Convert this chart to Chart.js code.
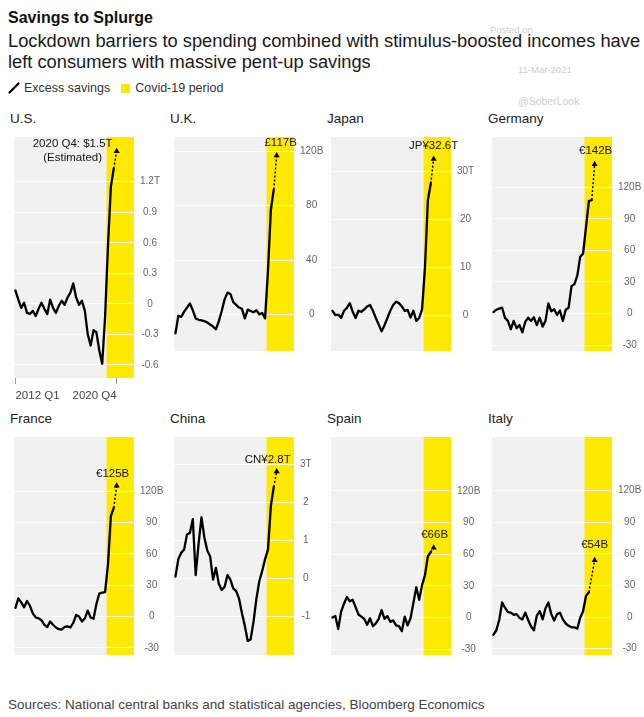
<!DOCTYPE html>
<html>
<head>
<meta charset="utf-8">
<title>Savings to Splurge</title>
<script src="https://cdn.jsdelivr.net/npm/chart.js@4.4.1/dist/chart.umd.min.js"></script>
<style>
  html, body { margin: 0; padding: 0; background: #fff; }
  body { position: relative; width: 644px; height: 717px; overflow: hidden;
         font-family: "Liberation Sans", Arial, Helvetica, sans-serif; color: #111; }
  .txt { position: absolute; white-space: nowrap; }
  .panel-title { position: absolute; font-size: 13.5px; color: #222; line-height: 16px; }
  .legend { position: absolute; left: 8px; top: 80px; display: flex; align-items: center; font-size: 12.5px; color: #333; line-height: 16px; }
  .legend .swatch { width: 9px; height: 9px; background: #ffe900; margin: 0 5px 0 11px; }
  .mark { position: absolute; color: #cfcfcf; white-space: nowrap; }
  canvas { position: absolute; }
</style>
</head>
<body>

<div class="txt" style="left:8px; top:8px; font-size:16px; font-weight:bold; line-height:20px;">Savings to Splurge</div>
<div class="txt" style="left:8px; top:30px; font-size:18.3px; line-height:21px; color:#1a1a1a;">Lockdown barriers to spending combined with stimulus-boosted incomes have</div>
<div class="txt" style="left:8px; top:51px; font-size:18.3px; line-height:21px; color:#1a1a1a;">left consumers with massive pent-up savings</div>

<div class="legend">
  <svg width="12" height="12" viewBox="0 0 12 12" style="margin-right:4px"><line x1="1.5" y1="10.5" x2="10.5" y2="1.5" stroke="#000" stroke-width="2.2" stroke-linecap="round"/></svg>
  <span>Excess savings</span>
  <span class="swatch"></span>
  <span>Covid-19 period</span>
</div>

<div class="mark" style="left:490px; top:24px; font-size:9.5px;">Posted on</div>
<div class="mark" style="left:518px; top:64px; font-size:9.5px;">11-Mar-2021</div>
<div class="mark" style="left:518px; top:95px; font-size:10.5px;">@SoberLook</div>

<div id="titles"></div>

<div class="txt" style="left:8px; top:697px; font-size:13.5px; line-height:16px; color:#444;">Sources: National central banks and statistical agencies, Bloomberg Economics</div>

<script>
// Quarterly periods shared by every panel (x value = position in this list)
const quarters = [
  '2012 Q1','2012 Q2','2012 Q3','2012 Q4','2013 Q1','2013 Q2','2013 Q3','2013 Q4',
  '2014 Q1','2014 Q2','2014 Q3','2014 Q4','2015 Q1','2015 Q2','2015 Q3','2015 Q4',
  '2016 Q1','2016 Q2','2016 Q3','2016 Q4','2017 Q1','2017 Q2','2017 Q3','2017 Q4',
  '2018 Q1','2018 Q2','2018 Q3','2018 Q4','2019 Q1','2019 Q2','2019 Q3','2019 Q4',
  '2020 Q1','2020 Q2','2020 Q3','2020 Q4'
];
const covidStartQuarter = '2020 Q1';
const estimateQuarter = '2020 Q4';
const xAxisQuarters = ['2012 Q1', '2020 Q4'];

const countries = ['U.S.', 'U.K.', 'Japan', 'Germany', 'France', 'China', 'Spain', 'Italy'];

// Excess savings (US$ trillions, GBP/EUR billions, JPY/CNY trillions)
const usSavings = [0.13, 0.04, -0.04, 0.01, -0.09, -0.10, -0.07, -0.12, -0.05, 0.01, -0.05, -0.10,
  0.04, -0.04, -0.09, -0.02, 0.03, -0.01, 0.06, 0.11, 0.20, 0.06, -0.01, 0.03, -0.07, -0.30,
  -0.41, -0.26, -0.28, -0.46, -0.59, -0.13, 0.57, 1.15, 1.33];
const ukSavings = [-14, -1, -2, 2, 5, 8, 3, -3, -4, -4.5, -5, -6, -7.5, -9, -11, -5, 2.5, 11,
  16, 15, 9, 7, 5, 4, -3, 3.5, 2.5, 1.5, 3, 0, 1, -3, 32, 77, 92];
const japanSavings = [0.9, 0, 0.1, -0.6, 0.9, 1.5, 2.5, 0.7, -0.6, 0.9, 0.7, 1.2, 1.8, 2.1, 0.9,
  -0.6, -2.0, -3.4, -2.1, -0.6, 0.9, 2.1, 2.8, 2.5, 1.8, 0.9, 1.1, -0.5, 0.9, -1.2, -0.6, 1.2,
  10, 24, 27.5];
const germanySavings = [1.4, 3.6, 4.7, 5.5, -4.2, -7, -15, -7, -14, -11, -18, -8, -4, -7, -3.6,
  -11, -4, -12.5, -7, 9.7, 2, 4, -1.4, 2.8, -7, 3.6, 5.5, 26, 28, 36, 54, 57, 82, 107, 108];
const franceSavings = [8.4, 17.5, 13.6, 8.9, 14.9, 10.4, 3.1, -0.8, -1.6, -3.4, -7.8, -9.9, -4.7,
  -7.8, -10.4, -12, -12.5, -9.9, -9.4, -10.4, -6, 1.6, 0, -4.7, -1.6, 5.7, -0.8, -2, 12, 22,
  23, 23.5, 50, 96, 104];
const chinaSavings = [0.04, 0.5, 0.67, 0.75, 1.15, 1.19, 1.55, 0.08, 0.9, 1.6, 1.07, 0.73, 0.57,
  -0.04, 0.27, -0.15, -0.31, -0.23, 0.08, -0.04, -0.27, -0.34, -0.54, -0.92, -1.26, -1.65,
  -1.61, -1.15, -0.54, -0.08, 0.19, 0.5, 0.75, 1.9, 2.4];
const spainSavings = [0, 1.4, -11, 5.5, 13, 19.4, 15.3, 16.7, 9.7, 2.8, 0.8, -1.4, -7, -0.8,
  -8.3, -5.6, -1.4, 7, -1.4, 1.4, -4.2, -2.8, -7.5, -8.3, -13, 0.8, -7.5, -0.8, 13.9, 28.6,
  16.7, 30.6, 40, 58, 62];
const italySavings = [-16.7, -12.5, -2.8, 13.9, 8.9, 4.7, 4.2, 2.2, 2.8, -0.6, -2.2, 4.2, -2.8,
  -8.9, -12.5, 1.4, 5.6, -2.2, 8.3, 13.9, 2.8, -3.3, 2.8, 4.2, -2.2, -6.1, -8.3, -9.7, -9.7,
  -11, -0.6, 5.6, 20, 23.6];

// Estimated 2020 Q4 levels (dotted arrow tip) and their call-out text
const estimates = [1.5, 117, 32.6, 142, 125, 2.8, 66, 54];
const estimateLabels = [
  ['2020 Q4: $1.5T', '(Estimated)'], ['£117B'], ['JP¥32.6T'], ['€142B'],
  ['€125B'], ['CN¥2.8T'], ['€66B'], ['€54B']
];

// Y-axis tick values and the unit shown on the top tick
const usTicks = [-0.6, -0.3, 0, 0.3, 0.6, 0.9, 1.2];
const ukTicks = [0, 40, 80, 120];
const japanTicks = [0, 10, 20, 30];
const germanyTicks = [-30, 0, 30, 60, 90, 120];
const franceTicks = [-30, 0, 30, 60, 90, 120];
const chinaTicks = [-1, 0, 1, 2, 3];
const spainTicks = [-30, 0, 30, 60, 90, 120];
const italyTicks = [-30, 0, 30, 60, 90, 120];
const tickUnits = ['T', 'B', 'T', 'B', 'B', 'T', 'B', 'B'];

const seriesList = [usSavings, ukSavings, japanSavings, germanySavings, franceSavings, chinaSavings, spainSavings, italySavings];
const tickList = [usTicks, ukTicks, japanTicks, germanyTicks, franceTicks, chinaTicks, spainTicks, italyTicks];

// Panel geometry: plot-area origin, height, value range and call-out offset
const PLOT_W = 124, AXIS_W = 34, X_AXIS_H = 27;
const layout = [
  { left: 10,  top: 133, h: 245, min: -0.73, max: 1.64, dx: -44, dy: -7, xAxis: true },
  { left: 170, top: 133, h: 245, min: -27,   max: 130.6, dx: 4,  dy: -13 },
  { left: 327, top: 133, h: 245, min: -7.5,  max: 37.2,  dx: 0,  dy: -13 },
  { left: 488, top: 133, h: 245, min: -35.7, max: 168,   dx: 1,  dy: -13 },
  { left: 10,  top: 433, h: 249, min: -36.7, max: 171.7, dx: -4, dy: -12 },
  { left: 170, top: 433, h: 249, min: -2.02, max: 3.71,  dx: -9, dy: -12 },
  { left: 327, top: 433, h: 249, min: -35.6, max: 171,   dx: 1,  dy: -13 },
  { left: 488, top: 433, h: 249, min: -36,   max: 171,   dx: 0,  dy: -15 }
];

const FONT = '"Liberation Sans", Arial, Helvetica, sans-serif';
const X_MIN = -0.5, X_MAX = 41;
const bandStart = quarters.indexOf(covidStartQuarter) - 0.5;
const estX = quarters.indexOf(estimateQuarter);

const titles = document.getElementById('titles');

countries.forEach((name, k) => {
  const L = layout[k];

  const t = document.createElement('div');
  t.className = 'panel-title';
  t.style.left = L.left + 'px';
  t.style.top = (L.top - 22) + 'px';
  t.textContent = name;
  titles.appendChild(t);

  const canvas = document.createElement('canvas');
  const height = L.h + (L.xAxis ? X_AXIS_H : 0);
  canvas.width = PLOT_W + AXIS_W;
  canvas.height = height;
  canvas.style.left = L.left + 'px';
  canvas.style.top = L.top + 'px';
  canvas.style.width = canvas.width + 'px';
  canvas.style.height = height + 'px';
  document.body.appendChild(canvas);

  const values = seriesList[k];
  const solid = values.map((v, i) => ({ x: i, y: v }));
  const last = solid[solid.length - 1];
  const ticks = tickList[k];
  const topTick = ticks[ticks.length - 1];

  // grey plot background with the yellow Covid-19 band
  const backdrop = {
    id: 'backdrop',
    beforeDraw(chart) {
      const { ctx, chartArea: a, scales: { x } } = chart;
      ctx.save();
      ctx.fillStyle = '#f1f1f1';
      ctx.fillRect(a.left, a.top, a.right - a.left, a.bottom - a.top);
      const bx = x.getPixelForValue(bandStart);
      ctx.fillStyle = '#ffe900';
      ctx.fillRect(bx, a.top, a.right - bx, a.bottom - a.top);
      ctx.restore();
    }
  };

  // call-out text above the estimated point
  const callout = {
    id: 'callout',
    afterDatasetsDraw(chart) {
      const { ctx, scales: { x, y } } = chart;
      const px = x.getPixelForValue(estX) + L.dx;
      const py = y.getPixelForValue(estimates[k]) + L.dy;
      ctx.save();
      ctx.font = '11.5px ' + FONT;
      ctx.fillStyle = '#151515';
      ctx.textAlign = 'center';
      ctx.textBaseline = 'middle';
      estimateLabels[k].forEach((line, i) => ctx.fillText(line, px, py + i * 14));
      ctx.restore();
    }
  };

  new Chart(canvas, {
    type: 'line',
    data: {
      datasets: [
        {
          data: solid,
          borderColor: '#000',
          borderWidth: 2.3,
          pointRadius: 0,
          tension: 0,
          borderJoinStyle: 'round',
          borderCapStyle: 'round'
        },
        {
          data: [last, { x: estX, y: estimates[k] }],
          borderColor: '#000',
          borderWidth: 1.5,
          borderDash: [2, 2],
          pointRadius: [0, 3.5],
          pointStyle: 'triangle',
          pointBackgroundColor: '#000',
          pointBorderColor: '#000',
          pointBorderWidth: 0,
          tension: 0,
          clip: false
        }
      ]
    },
    options: {
      responsive: false,
      animation: false,
      devicePixelRatio: 1,
      layout: { padding: 0 },
      plugins: { legend: { display: false }, tooltip: { enabled: false } },
      scales: {
        x: {
          type: 'linear',
          min: X_MIN,
          max: X_MAX,
          display: !!L.xAxis,
          afterBuildTicks: s => { s.ticks = xAxisQuarters.map(q => ({ value: quarters.indexOf(q) })); },
          afterFit: s => { s.height = X_AXIS_H; s.paddingLeft = 0; s.paddingRight = 0; },
          ticks: {
            callback: v => quarters[v],
            align: 'inner',
            autoSkip: false,
            maxRotation: 0,
            padding: 5,
            color: '#444',
            font: { family: FONT, size: 11.5 }
          },
          grid: { drawOnChartArea: false, drawTicks: true, tickLength: 6, color: '#9a9a9a' },
          border: { display: false }
        },
        y: {
          type: 'linear',
          position: 'right',
          min: L.min,
          max: L.max,
          afterBuildTicks: s => { s.ticks = ticks.map(v => ({ value: v })); },
          afterFit: s => { s.width = AXIS_W; s.paddingTop = 0; s.paddingBottom = 0; },
          ticks: {
            callback: v => (v === topTick ? v + tickUnits[k] : String(v)),
            crossAlign: 'center',
            padding: 6,
            color: '#666',
            font: { family: FONT, size: 10 }
          },
          grid: { color: 'rgba(255,255,255,0.85)', lineWidth: 1, drawTicks: false },
          border: { display: false }
        }
      }
    },
    plugins: [backdrop, callout]
  });
});
</script>
</body>
</html>
